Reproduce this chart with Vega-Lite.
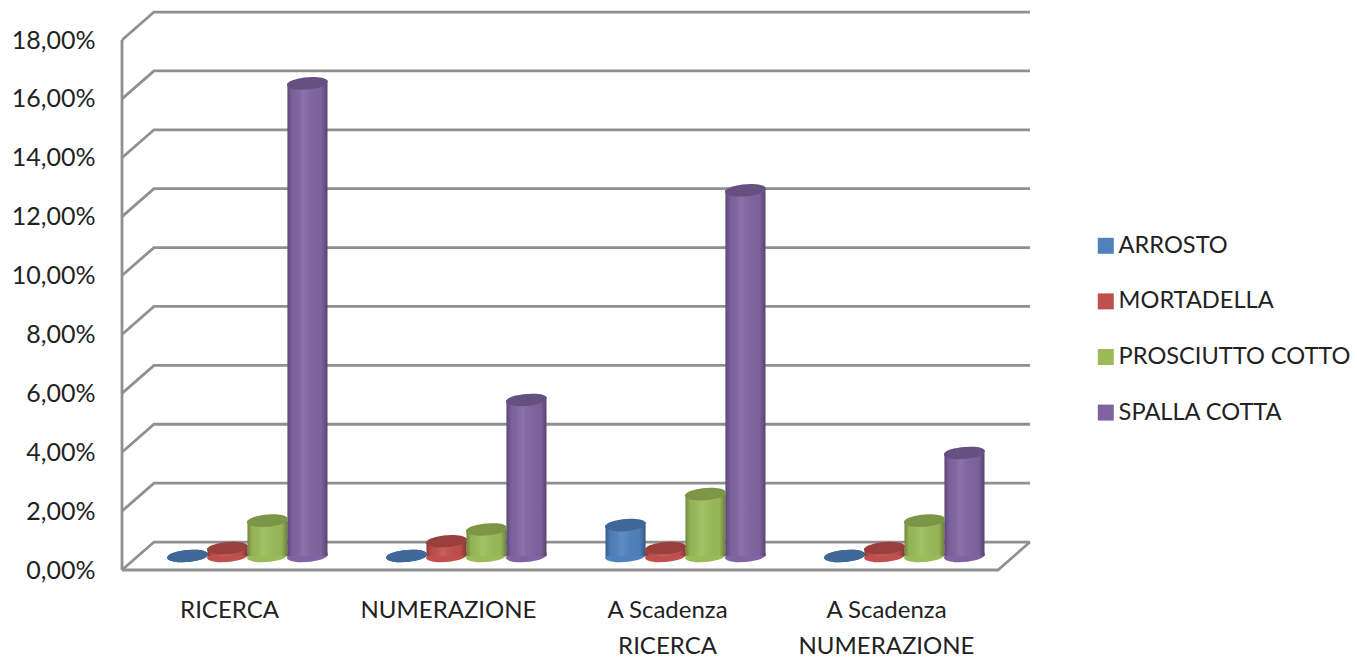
{
  "$schema": "https://vega.github.io/schema/vega-lite/v6.json",
  "width": 908,
  "height": 558,
  "autosize": {"type": "none"},
  "padding": {"left": 122, "top": 12, "right": 327, "bottom": 88},
  "background": "white",
  "config": {"view": {"stroke": null}, "font": "Lato"},
  "datasets": {
    "frame": [
      {"line": "g0", "cat": 0, "pct": 0}, {"line": "g0", "cat": 0.146, "pct": 0.95}, {"line": "g0", "cat": 4.146, "pct": 0.95},
      {"line": "g2", "cat": 0, "pct": 2}, {"line": "g2", "cat": 0.146, "pct": 2.95}, {"line": "g2", "cat": 4.146, "pct": 2.95},
      {"line": "g4", "cat": 0, "pct": 4}, {"line": "g4", "cat": 0.146, "pct": 4.95}, {"line": "g4", "cat": 4.146, "pct": 4.95},
      {"line": "g6", "cat": 0, "pct": 6}, {"line": "g6", "cat": 0.146, "pct": 6.95}, {"line": "g6", "cat": 4.146, "pct": 6.95},
      {"line": "g8", "cat": 0, "pct": 8}, {"line": "g8", "cat": 0.146, "pct": 8.95}, {"line": "g8", "cat": 4.146, "pct": 8.95},
      {"line": "g10", "cat": 0, "pct": 10}, {"line": "g10", "cat": 0.146, "pct": 10.95}, {"line": "g10", "cat": 4.146, "pct": 10.95},
      {"line": "g12", "cat": 0, "pct": 12}, {"line": "g12", "cat": 0.146, "pct": 12.95}, {"line": "g12", "cat": 4.146, "pct": 12.95},
      {"line": "g14", "cat": 0, "pct": 14}, {"line": "g14", "cat": 0.146, "pct": 14.95}, {"line": "g14", "cat": 4.146, "pct": 14.95},
      {"line": "g16", "cat": 0, "pct": 16}, {"line": "g16", "cat": 0.146, "pct": 16.95}, {"line": "g16", "cat": 4.146, "pct": 16.95},
      {"line": "g18", "cat": 0, "pct": 18}, {"line": "g18", "cat": 0.146, "pct": 18.95}, {"line": "g18", "cat": 4.146, "pct": 18.95},
      {"line": "wall", "cat": 0, "pct": 0}, {"line": "wall", "cat": 0, "pct": 18},
      {"line": "floor", "cat": 0, "pct": 0}, {"line": "floor", "cat": 4, "pct": 0}, {"line": "floor", "cat": 4.146, "pct": 0.95}
    ],
    "shares": [
      {"test": "RICERCA", "product": "ARROSTO", "share": 0},
      {"test": "RICERCA", "product": "MORTADELLA", "share": 0.27},
      {"test": "RICERCA", "product": "PROSCIUTTO COTTO", "share": 1.2},
      {"test": "RICERCA", "product": "SPALLA COTTA", "share": 16.05},
      {"test": "NUMERAZIONE", "product": "ARROSTO", "share": 0},
      {"test": "NUMERAZIONE", "product": "MORTADELLA", "share": 0.5},
      {"test": "NUMERAZIONE", "product": "PROSCIUTTO COTTO", "share": 0.9},
      {"test": "NUMERAZIONE", "product": "SPALLA COTTA", "share": 5.3},
      {"test": "A Scadenza RICERCA", "product": "ARROSTO", "share": 1.05},
      {"test": "A Scadenza RICERCA", "product": "MORTADELLA", "share": 0.27},
      {"test": "A Scadenza RICERCA", "product": "PROSCIUTTO COTTO", "share": 2.1},
      {"test": "A Scadenza RICERCA", "product": "SPALLA COTTA", "share": 12.42},
      {"test": "A Scadenza NUMERAZIONE", "product": "ARROSTO", "share": 0},
      {"test": "A Scadenza NUMERAZIONE", "product": "MORTADELLA", "share": 0.27},
      {"test": "A Scadenza NUMERAZIONE", "product": "PROSCIUTTO COTTO", "share": 1.2},
      {"test": "A Scadenza NUMERAZIONE", "product": "SPALLA COTTA", "share": 3.5}
    ]
  },
  "layer": [
    {
      "data": {"name": "frame"},
      "mark": {"type": "line", "stroke": "#909090", "strokeWidth": 2.8, "strokeJoin": "miter"},
      "encoding": {
        "detail": {"field": "line"},
        "x": {"field": "cat", "type": "quantitative", "axis": null,
              "scale": {"domain": [0, 4], "range": [0, 876], "nice": false, "zero": false}},
        "y": {"field": "pct", "type": "quantitative",
              "scale": {"domain": [0, 18], "range": [558, 28], "nice": false},
              "axis": {"title": null, "values": [0, 2, 4, 6, 8, 10, 12, 14, 16, 18], "grid": false, "domain": false, "ticks": false,
                       "labelExpr": "replace(format(datum.value, '.2f'), '.', ',') + '%'",
                       "labelFont": "Lato", "labelFontSize": 25, "labelColor": "#222222", "labelPadding": 27, "labelOffset": 0}}
      }
    },
    {
      "data": {"name": "shares"},
      "encoding": {
        "x": {"field": "test", "type": "nominal",
              "scale": {"type": "band", "domain": ["RICERCA", "NUMERAZIONE", "A Scadenza RICERCA", "A Scadenza NUMERAZIONE"],
                        "range": [16, 892], "paddingInner": 0.27, "paddingOuter": 0.135},
              "axis": {"title": null, "domain": false, "ticks": false, "grid": false, "labelAngle": 0, "labelOffset": -18, "labelPadding": 28,
                       "labelLimit": 400, "labelFont": "Lato", "labelFontSize": 24, "labelColor": "#222222", "labelLineHeight": 36,
                       "labelExpr": "indexof(datum.label, 'A Scadenza') == 0 ? ['A Scadenza', slice(datum.label, 11)] : datum.label"}},
        "xOffset": {"field": "product", "type": "nominal",
                    "scale": {"domain": ["ARROSTO", "MORTADELLA", "PROSCIUTTO COTTO", "SPALLA COTTA"], "paddingInner": 0, "paddingOuter": 0}},
        "y": {"field": "share", "type": "quantitative", "axis": null,
              "scale": {"domain": [0, 18], "range": [544, 14], "nice": false}}
      },
      "layer": [
        {
          "mark": {"type": "point", "filled": true, "opacity": 1, "size": 1681,
                   "shape": "M-0.996,0.087A1,0.29,-5,1,0,0.996,-0.087A1,0.29,-5,1,0,-0.996,0.087Z"},
          "encoding": {
            "y": {"datum": 0, "type": "quantitative"},
            "color": {"field": "product", "type": "nominal",
                      "scale": {"domain": ["ARROSTO", "MORTADELLA", "PROSCIUTTO COTTO", "SPALLA COTTA"],
                                "range": ["#4f81bd", "#c0504d", "#9bbb59", "#8064a2"]},
                      "legend": {"title": null, "orient": "none", "legendX": 972, "legendY": 222, "padding": 0,
                                 "symbolType": "square", "symbolSize": 256, "symbolStrokeWidth": 0, "symbolOpacity": 1,
                                 "labelFont": "Lato", "labelFontSize": 23.6, "labelColor": "#222222", "labelOffset": 1, "labelLimit": 300, "rowPadding": 30.6}}
          }
        },
        {
          "mark": {"type": "bar"},
          "encoding": {
            "color": {"field": "product", "type": "nominal"}
          }
        },
        {
          "mark": {"type": "bar",
                   "fill": {"gradient": "linear", "x1": 0, "x2": 1, "y1": 0, "y2": 0,
                            "stops": [
                              {"offset": 0, "color": "rgba(0,0,0,0.28)"},
                              {"offset": 0.12, "color": "rgba(0,0,0,0.04)"},
                              {"offset": 0.4, "color": "rgba(255,255,255,0.09)"},
                              {"offset": 0.85, "color": "rgba(0,0,0,0.03)"},
                              {"offset": 1, "color": "rgba(0,0,0,0.32)"}
                            ]}}
        },
        {
          "mark": {"type": "point", "filled": true, "opacity": 1, "size": 1681,
                   "shape": "M-0.996,0.087A1,0.29,-5,1,0,0.996,-0.087A1,0.29,-5,1,0,-0.996,0.087Z"},
          "encoding": {
            "color": {"field": "product", "type": "nominal"}
          }
        },
        {
          "mark": {"type": "point", "filled": true, "fill": "#000000", "opacity": 0.2, "size": 1681,
                   "shape": "M-0.996,0.087A1,0.29,-5,1,0,0.996,-0.087A1,0.29,-5,1,0,-0.996,0.087Z"}
        }
      ]
    }
  ],
  "resolve": {"scale": {"x": "independent", "y": "independent"}}
}
